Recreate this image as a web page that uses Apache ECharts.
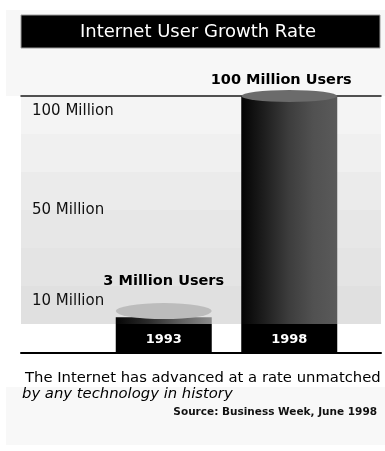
<!DOCTYPE html>
<html>
<head>
<meta charset="utf-8">
<script src="https://cdn.jsdelivr.net/npm/echarts@6/dist/echarts.min.js"></script>
<style>
html,body{margin:0;padding:0;background:#fff;}
#chart{width:385px;height:451px;}
</style>
</head>
<body>
<div id="chart"></div>
<script>
// ---- data ----
const chartTitle = 'Internet User Growth Rate';
const categories = ['1993', '1998'];
const usersMillions = [3, 100];
const valueLabels = ['3 Million Users', '100 Million Users'];
const tickValues = [10, 50, 100];
const tickLabels = ['10 Million', '50 Million', '100 Million'];
const captionLine1 = 'The Internet has advanced at a rate unmatched';
const captionLine2 = 'by any technology in history';
const sourceText = 'Source: Business Week, June 1998';

// ---- styles ----
const FONT = 'DejaVu Sans';
const grad = (stops) => new echarts.graphic.LinearGradient(0, 0, 1, 0,
  stops.map((c, i) => ({ offset: i / (stops.length - 1), color: c })));
const bodyGradients = [
  grad(['#050505', '#2a2a2a', '#5e5e5e', '#8c8c8c']),
  grad(['#030303', '#1f1f1f', '#3d3d3d', '#515151', '#5a5a5a'])
];
const capStyles = [
  { size: [96, 16], offset: [0, '-88%'], color: '#bcbcbc' },
  { size: [96, 12], offset: [0, '-50%'], color: '#6b6b6b' }
];
const labelStyles = [
  { distance: 28, offset: [0, 0] },
  { distance: 8, offset: [-8, 0] }
];
const bandColors = ['#e0e0e0', '#e4e4e4', '#e7e7e7', '#ebebeb', '#f0f0f0', '#f4f4f4'];

const chart = echarts.init(document.getElementById('chart'), null, { renderer: 'canvas' });

const option = {
  animation: false,
  backgroundColor: '#ffffff',
  graphic: [
    { type: 'rect', z: -20, shape: { x: 6, y: 10, width: 379, height: 86 }, style: { fill: '#f7f7f7' } },
    { type: 'rect', z: -20, shape: { x: 6, y: 387, width: 379, height: 58 }, style: { fill: '#f8f8f8' } },
    { type: 'rect', z: -10, shape: { x: 21, y: 15, width: 359, height: 33 }, style: { fill: '#000', stroke: '#9a9a9a', lineWidth: 1 } }
  ],
  title: [
    { text: chartTitle, left: 80, top: 22, padding: 0,
      textStyle: { color: '#fff', fontFamily: FONT, fontSize: 18, fontWeight: 'normal', lineHeight: 20 } },
    { text: captionLine1, left: 25, top: 370, padding: 0,
      textStyle: { color: '#000', fontFamily: FONT, fontSize: 14.8, fontWeight: 'normal', lineHeight: 16 } },
    { text: captionLine2, left: 22, top: 386, padding: 0,
      textStyle: { color: '#000', fontFamily: FONT, fontSize: 14.8, fontStyle: 'italic', fontWeight: 'normal', lineHeight: 16 } },
    { text: sourceText, right: 8, top: 406, padding: 0,
      textStyle: { color: '#111', fontFamily: FONT, fontSize: 10.5, fontWeight: 'bold', lineHeight: 12 } }
  ],
  grid: [
    { left: 21, right: 4, top: 96, height: 228 },
    { left: 101, right: 33, top: 96, height: 228 }
  ],
  xAxis: [
    { gridIndex: 0, type: 'value', min: 0, max: 1, position: 'bottom', offset: 29,
      axisLine: { show: true, onZero: false, lineStyle: { color: '#000', width: 2 } },
      axisTick: { show: false }, axisLabel: { show: false }, splitLine: { show: false } },
    { gridIndex: 1, type: 'category', data: categories, position: 'bottom',
      axisLine: { show: false, onZero: false }, axisTick: { show: false },
      axisLabel: { interval: 0, margin: 0, color: '#fff', fontFamily: FONT, fontSize: 13, fontWeight: 'bold',
        backgroundColor: '#000', width: 96, height: 29, lineHeight: 29, align: 'center', verticalAlign: 'top',
        padding: [1, 0, 0, 0], overflow: 'none' } },
    { gridIndex: 0, type: 'value', min: 0, max: 1, position: 'top',
      axisLine: { show: true, onZero: false, lineStyle: { color: '#1a1a1a', width: 1.5 } },
      axisTick: { show: false }, axisLabel: { show: false }, splitLine: { show: false } }
  ],
  yAxis: [
    { gridIndex: 0, type: 'value', min: 0, max: 100, interval: 100 / 6,
      axisLine: { show: false }, axisTick: { show: false }, splitLine: { show: false },
      splitArea: { show: true, areaStyle: { color: bandColors } },
      axisLabel: {
        inside: true, margin: 11, color: '#111', fontFamily: FONT, fontSize: 15,
        customValues: tickValues,
        formatter: (v) => {
          const i = tickValues.indexOf(Math.round(v));
          if (i < 0) return '';
          return i === tickValues.length - 1 ? '{top|' + tickLabels[i] + '}' : tickLabels[i];
        },
        rich: { top: { padding: [30, 0, 0, 0], fontFamily: FONT, fontSize: 15, color: '#111' } }
      } },
    { gridIndex: 1, type: 'value', min: 0, max: 100, show: false }
  ],
  series: [
    {
      type: 'bar', xAxisIndex: 1, yAxisIndex: 1, barWidth: 96, z: 3,
      data: usersMillions.map((v, i) => ({
        value: v,
        itemStyle: { color: bodyGradients[i] },
        label: {
          show: true, position: 'top', distance: labelStyles[i].distance, offset: labelStyles[i].offset,
          formatter: valueLabels[i], color: '#000', fontFamily: FONT, fontSize: 14.5, fontWeight: 'bold'
        }
      }))
    },
    {
      type: 'pictorialBar', xAxisIndex: 1, yAxisIndex: 1, symbol: 'circle', symbolPosition: 'end', z: 4,
      data: usersMillions.map((v, i) => ({
        value: v,
        symbolSize: capStyles[i].size,
        symbolOffset: capStyles[i].offset,
        itemStyle: { color: capStyles[i].color }
      }))
    }
  ]
};
chart.setOption(option);
</script>
</body>
</html>
